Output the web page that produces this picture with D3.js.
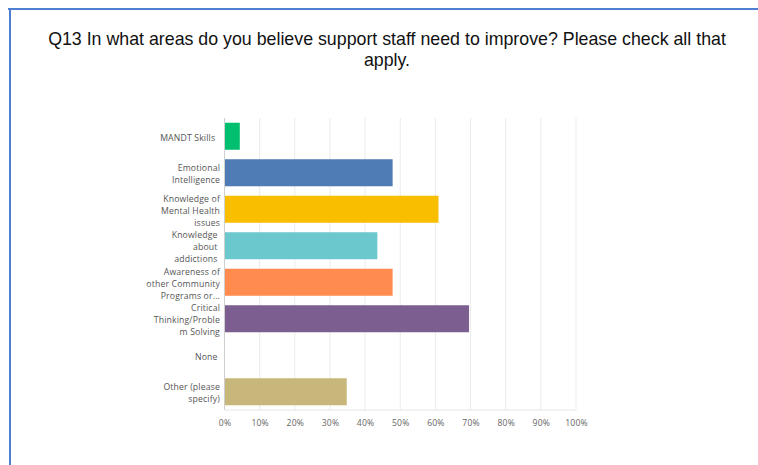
<!DOCTYPE html>
<html><head><meta charset="utf-8">
<script src="https://cdn.jsdelivr.net/npm/d3@7"></script>
<style>
html,body{margin:0;padding:0;background:#fff;}
svg{display:block;}
</style></head>
<body>
<svg id="chart" width="758" height="465"></svg>
<script>
const title = ["Q13 In what areas do you believe support staff need to improve? Please check all that", "apply."];
const categories = ["MANDT Skills", "Emotional Intelligence", "Knowledge of Mental Health issues", "Knowledge about addictions", "Awareness of other Community Programs or...", "Critical Thinking/Problem Solving", "None", "Other (please specify)"];
const categoryLines = [
  ["MANDT Skills  "],
  ["Emotional", "Intelligence"],
  ["Knowledge of", "Mental Health", "issues"],
  ["Knowledge ", "about ", "addictions "],
  ["Awareness of", "other Community", "Programs or..."],
  ["Critical", "Thinking/Proble", "m Solving"],
  ["None "],
  ["Other (please", "specify)"]
];
const values = [4.35, 47.83, 60.87, 43.48, 47.83, 69.57, 0, 34.78];
const colors = ["#00bf6f", "#507cb6", "#f9be00", "#6bc8cd", "#ff8b4f", "#7d5e90", "#d25f90", "#c8b77a"];
const tickValues = [0,10,20,30,40,50,60,70,80,90,100];
const tickLabels = ["0%","10%","20%","30%","40%","50%","60%","70%","80%","90%","100%"];

const svg = d3.select("#chart");

// frame
svg.append("line").attr("x1",8).attr("x2",758).attr("y1",9).attr("y2",9)
  .attr("stroke","#4d7fd2").attr("stroke-width",2);
svg.append("line").attr("x1",10).attr("x2",10).attr("y1",8).attr("y2",465)
  .attr("stroke","#4d7fd2").attr("stroke-width",2);

// title
svg.append("text").attr("x",387).attr("y",0)
  .attr("text-anchor","middle")
  .style("font-family","'Liberation Sans', Arial, sans-serif")
  .style("font-size","17.8px").attr("fill","#111")
  .selectAll("tspan").data(title).join("tspan")
  .attr("x",387).attr("y",(d,i)=>45+i*21).text(d=>d);

const x = d3.scaleLinear().domain([0,100]).range([224.5,576]);
const y = d3.scaleBand().domain(categories).range([118,410]).paddingInner(0.26).paddingOuter(0.13);

// gridlines
svg.append("g").selectAll("line").data(tickValues.slice(1)).join("line")
  .attr("x1",d=>x(d)).attr("x2",d=>x(d)).attr("y1",118).attr("y2",410)
  .attr("stroke","#ebebeb").attr("stroke-width",1);

// bars
svg.append("g").selectAll("rect").data(categories).join("rect")
  .attr("x",x(0)).attr("y",d=>y(d))
  .attr("width",(d,i)=>x(values[i])-x(0))
  .attr("height",y.bandwidth())
  .attr("fill",(d,i)=>colors[i]);

// axes lines
svg.append("line").attr("x1",x(0)).attr("x2",x(0)).attr("y1",118).attr("y2",410)
  .attr("stroke","#cfcfcf").attr("stroke-width",1);
svg.append("line").attr("x1",x(0)).attr("x2",x(100)).attr("y1",410).attr("y2",410)
  .attr("stroke","#e6e6e6").attr("stroke-width",1);

// x tick labels
const xAxis = d3.axisBottom(x).tickValues(tickValues).tickFormat((d,i)=>tickLabels[i]).tickSize(0).tickPadding(10);
const gx = svg.append("g").attr("transform","translate(0,410)").call(xAxis);
gx.select(".domain").remove();
gx.selectAll("text").style("font-family","'Open Sans', sans-serif").style("font-size","8.6px")
  .style("letter-spacing","0.2px").attr("fill","#666");

// category labels
const labels = svg.append("g");
categories.forEach((c,i)=>{
  const lines = categoryLines[i];
  const cy = y(c)+y.bandwidth()/2;
  const lh = 12;
  const t = labels.append("text").attr("text-anchor","end")
    .style("font-family","'Open Sans', sans-serif").style("font-size","8.7px")
    .style("letter-spacing","0.15px")
    .style("white-space","pre").attr("fill","#555");
  lines.forEach((ln,j)=>{
    t.append("tspan").attr("x",220).attr("y",cy + (j-(lines.length-1)/2)*lh + 4.5).text(ln);
  });
});
</script>
</body></html>
